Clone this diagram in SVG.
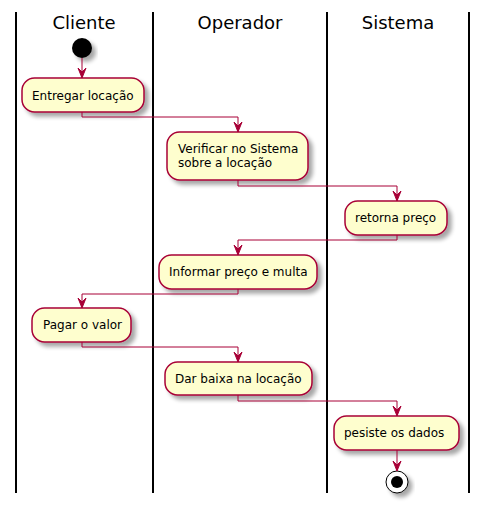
<svg xmlns="http://www.w3.org/2000/svg" width="488" height="508" viewBox="0 0 488 508">
<style>
.lane{stroke:#000;stroke-width:2;fill:none}
.title{font-family:"DejaVu Sans",sans-serif;font-size:18px;fill:#000;text-anchor:middle}
.box{fill:#FEFECE;stroke:#A80036;stroke-width:1.5}
.lbl{font-family:"DejaVu Sans",sans-serif;font-size:12px;fill:#000}
.edge{stroke:#A80036;stroke-width:1;fill:none}
.head{fill:#A80036;stroke:#A80036;stroke-width:1}
</style>
<defs>
<filter id="sh" x="-20%" y="-20%" width="150%" height="160%">
<feGaussianBlur in="SourceAlpha" stdDeviation="2" result="b"/>
<feOffset in="b" dx="4" dy="4" result="o"/>
<feComponentTransfer in="o" result="c"><feFuncA type="linear" slope="0.35"/></feComponentTransfer>
<feMerge><feMergeNode in="c"/><feMergeNode in="SourceGraphic"/></feMerge>
</filter>
</defs>
<g id="lanes">
<line class="lane" x1="16" y1="12" x2="16" y2="493"/>
<line class="lane" x1="153" y1="12" x2="153" y2="493"/>
<line class="lane" x1="327" y1="12" x2="327" y2="493"/>
<line class="lane" x1="469" y1="12" x2="469" y2="493"/>
<text class="title" x="84" y="29">Cliente</text>
<text class="title" x="240" y="29">Operador</text>
<text class="title" x="398" y="29">Sistema</text>
</g>
<g id="start"><circle cx="82" cy="48" r="10" fill="#000" filter="url(#sh)"/></g>
<g id="n1"><rect class="box" x="22" y="78" width="122" height="34" rx="12.5" filter="url(#sh)"/><text class="lbl" x="32" y="100">Entregar locação</text></g>
<g id="n2"><rect class="box" x="167" y="132" width="141" height="48" rx="12.5" filter="url(#sh)"/><text class="lbl" x="178" y="153">Verificar no Sistema</text><text class="lbl" x="178" y="167">sobre a locação</text></g>
<g id="n3"><rect class="box" x="345" y="201" width="102" height="34" rx="12.5" filter="url(#sh)"/><text class="lbl" x="355" y="222">retorna preço</text></g>
<g id="n4"><rect class="box" x="159" y="255" width="158" height="34" rx="12.5" filter="url(#sh)"/><text class="lbl" x="169" y="276">Informar preço e multa</text></g>
<g id="n5"><rect class="box" x="32" y="308" width="99" height="34" rx="12.5" filter="url(#sh)"/><text class="lbl" x="43" y="329">Pagar o valor</text></g>
<g id="n6"><rect class="box" x="165" y="362" width="147" height="33" rx="12.5" filter="url(#sh)"/><text class="lbl" x="175" y="383">Dar baixa na locação</text></g>
<g id="n7"><rect class="box" x="334" y="416" width="125" height="34" rx="12.5" filter="url(#sh)"/><text class="lbl" x="344" y="437">pesiste os dados</text></g>
<g id="end"><circle cx="397" cy="482" r="11" fill="#fff" stroke="#000" stroke-width="1" filter="url(#sh)"/><circle cx="397" cy="482" r="6" fill="#000"/></g>
<g id="connectors">
<polyline class="edge" points="82,58 82,78"/>
<polygon class="head" points="78,68 82,78 86,68 82,72"/>
<polyline class="edge" points="82,112 82,117 238,117 238,132"/>
<polygon class="head" points="234,122 238,132 242,122 238,126"/>
<polyline class="edge" points="238,180 238,186 397,186 397,201"/>
<polygon class="head" points="393,191 397,201 401,191 397,195"/>
<polyline class="edge" points="397,235 397,240 238,240 238,255"/>
<polygon class="head" points="234,245 238,255 242,245 238,249"/>
<polyline class="edge" points="238,289 238,294 82,294 82,308"/>
<polygon class="head" points="78,298 82,308 86,298 82,302"/>
<polyline class="edge" points="82,342 82,347 238,347 238,362"/>
<polygon class="head" points="234,352 238,362 242,352 238,356"/>
<polyline class="edge" points="238,395 238,401 397,401 397,416"/>
<polygon class="head" points="393,406 397,416 401,406 397,410"/>
<polyline class="edge" points="397,450 397,471"/>
<polygon class="head" points="393,461 397,471 401,461 397,465"/>
</g>
</svg>
